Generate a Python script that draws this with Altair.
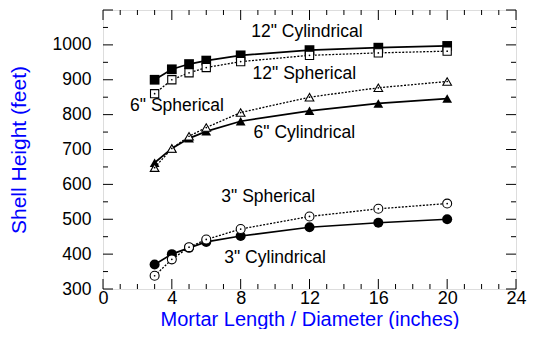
import altair as alt
import pandas as pd

x_vals = [3, 4, 5, 6, 8, 12, 16, 20]

cyl12 = [900, 930, 945, 955, 970, 985, 992, 997]
sph12 = [860, 900, 920, 935, 952, 970, 977, 982]
sph6 = [648, 703, 738, 763, 806, 850, 877, 895]
cyl6 = [662, 703, 732, 752, 781, 811, 832, 846]
sph3 = [338, 385, 420, 442, 472, 508, 530, 545]
cyl3 = [370, 400, 418, 435, 452, 477, 490, 500]

series_names = ['12" Cylindrical', '12" Spherical', '6" Spherical',
                '6" Cylindrical', '3" Spherical', '3" Cylindrical']
series_values = [cyl12, sph12, sph6, cyl6, sph3, cyl3]
series_shape = ["square", "square", "triangle-up", "triangle-up", "circle", "circle"]
series_filled = [True, False, False, True, False, True]

label_text = ['12" Cylindrical', '12" Spherical', '6" Spherical',
              '6" Cylindrical', '3" Spherical', '3" Cylindrical']
label_x = [11.85, 11.7, 4.3, 11.7, 9.6, 10.0]
label_y = [1037, 917, 826, 746, 563, 389]

x_major = [0, 4, 8, 12, 16, 20, 24]
x_minor = [i for i in range(0, 25) if i % 4 != 0]
y_major = [300, 400, 500, 600, 700, 800, 900, 1000, 1100]
y_minor = [350, 450, 550, 650, 750, 850, 950, 1050]
y_labels = y_major[:-1]

rows = []
for name, vals, shp, filled in zip(series_names, series_values, series_shape, series_filled):
    for i, (xv, yv) in enumerate(zip(x_vals, vals)):
        rows.append({"series": name, "x": xv, "y": yv, "shape": shp,
                     "filled": filled, "order": i})
df = pd.DataFrame(rows)

W, H = 413, 279
FONT = "Liberation Sans"

xs = alt.Scale(domain=[0, 24], nice=False, zero=False)
ys = alt.Scale(domain=[300, 1100], nice=False, zero=False)

solid = df[df["filled"]]
dotted = df[~df["filled"]]

lines_solid = alt.Chart(solid).mark_line(color="black", strokeWidth=1.7).encode(
    x=alt.X("x:Q", scale=xs), y=alt.Y("y:Q", scale=ys),
    detail="series:N", order="order:Q")
lines_dot = alt.Chart(dotted).mark_line(color="black", strokeWidth=1.3, strokeDash=[2, 1.5]).encode(
    x=alt.X("x:Q", scale=xs), y=alt.Y("y:Q", scale=ys),
    detail="series:N", order="order:Q")

pts = []
for shp, sz_f, sz_o in [("square", 95, 68), ("triangle-up", 95, 75), ("circle", 100, 80)]:
    pts.append(alt.Chart(solid[solid["shape"] == shp]).mark_point(
        shape=shp, filled=True, color="black", size=sz_f, opacity=1).encode(
        x=alt.X("x:Q", scale=xs), y=alt.Y("y:Q", scale=ys)))
    pts.append(alt.Chart(dotted[dotted["shape"] == shp]).mark_point(
        shape=shp, filled=True, fill="white", stroke="black", strokeWidth=1.1,
        size=sz_o, opacity=1).encode(
        x=alt.X("x:Q", scale=xs), y=alt.Y("y:Q", scale=ys)))
dots = alt.Chart(dotted).mark_point(shape="circle", filled=True, color="black", size=3, opacity=1).encode(
    x=alt.X("x:Q", scale=xs), y=alt.Y("y:Q", scale=ys))

labels_df = pd.DataFrame({"t": label_text, "x": label_x, "y": label_y})
labels = alt.Chart(labels_df).mark_text(font=FONT, fontSize=17.5, color="black",
                                          align="center", baseline="middle").encode(
    x=alt.X("x:Q", scale=xs), y=alt.Y("y:Q", scale=ys), text="t:N")

axis_layer = alt.Chart(pd.DataFrame({"x": [0], "y": [300]})).mark_point(opacity=0).encode(
    x=alt.X("x:Q", scale=xs, title="Mortar Length / Diameter (inches)",
            axis=alt.Axis(values=x_major, tickCount=len(x_major), ticks=False, domain=False,
                          grid=False, format="d",
                          labelPadding=0, titlePadding=2, labelFontSize=18,
                          titleFontSize=20, titleColor="#0000ff", labelColor="black",
                          labelFont=FONT, titleFont=FONT, titleFontWeight="normal",
                          labelFlush=False, labelOverlap=False)),
    y=alt.Y("y:Q", scale=ys, title="Shell Height (feet)",
            axis=alt.Axis(values=y_labels, tickCount=len(y_labels), ticks=False, domain=False,
                          grid=False, format="d",
                          labelPadding=12, titlePadding=23, labelFontSize=17.5,
                          titleFontSize=21, titleColor="#0000ff", labelColor="black",
                          labelFont=FONT, titleFont=FONT, titleFontWeight="normal",
                          labelFlush=False, labelOverlap=False)))

def xticks(vals, length):
    d = pd.DataFrame({"x": vals})
    b = alt.Chart(d).mark_rule(color="black", strokeWidth=1)
    return [
        b.encode(x=alt.X("x:Q", scale=xs), y=alt.value(H), y2=alt.value(H - length)),
        b.encode(x=alt.X("x:Q", scale=xs), y=alt.value(0), y2=alt.value(length)),
    ]

def yticks(vals, length):
    d = pd.DataFrame({"y": vals})
    b = alt.Chart(d).mark_rule(color="black", strokeWidth=1)
    return [
        b.encode(y=alt.Y("y:Q", scale=ys), x=alt.value(0), x2=alt.value(length)),
        b.encode(y=alt.Y("y:Q", scale=ys), x=alt.value(W), x2=alt.value(W - length)),
    ]

tick_layers = xticks(x_major, 10) + xticks(x_minor, 5) + yticks(y_major, 10) + yticks(y_minor, 5)

chart = alt.layer(axis_layer, *tick_layers, lines_dot, lines_solid, *pts, dots, labels).properties(
    width=W, height=H,
    autosize=alt.AutoSizeParams(type="none"),
    padding={"left": 95, "top": 2, "right": 11, "bottom": 40},
).configure_view(stroke="black", strokeWidth=1.3).configure(background="white")

chart.save("out.html", embed_options={"renderer": "svg", "actions": False})
